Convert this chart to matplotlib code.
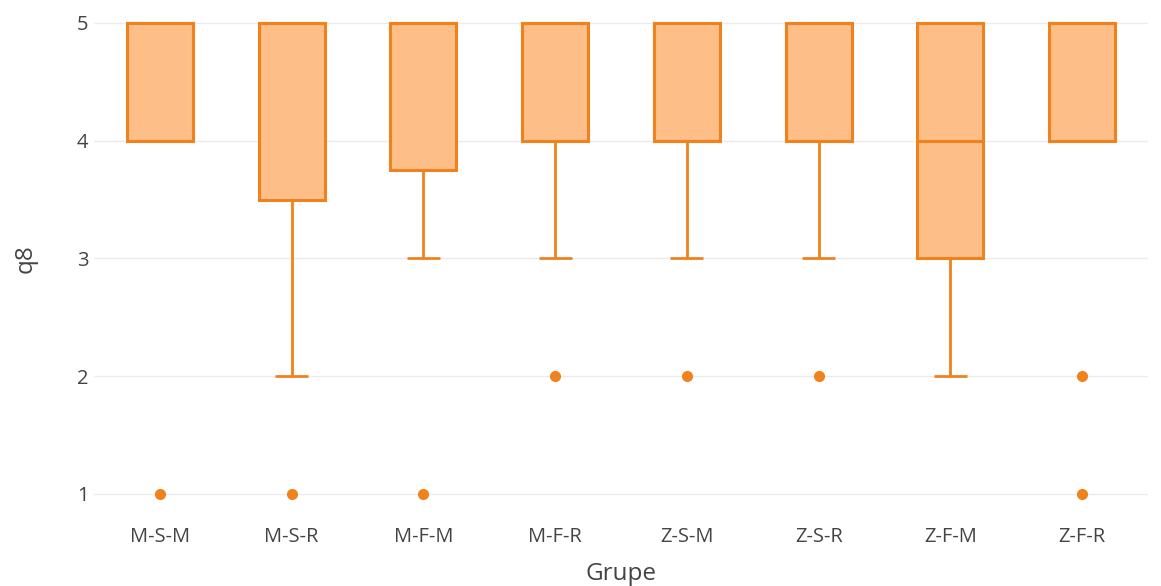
import matplotlib
matplotlib.use("Agg")
import matplotlib.pyplot as plt

# ── data ──────────────────────────────────────────────────────────────────────
groups = ["M-S-M", "M-S-R", "M-F-M", "M-F-R", "Z-S-M", "Z-S-R", "Z-F-M", "Z-F-R"]
q1 = [4, 3.5, 3.75, 4, 4, 4, 3, 4]
median = [5, 5, 5, 5, 4, 5, 4, 5]
q3 = [5, 5, 5, 5, 5, 5, 5, 5]
whis_lo = [4, 2, 3, 3, 3, 3, 2, 4]
whis_hi = [5, 5, 5, 5, 5, 5, 5, 5]
outliers = [[1], [1], [1], [2], [2], [2], [], [2, 1]]
y_ticks = [1, 2, 3, 4, 5]

LINE = "#f0821e"
FILL = "#fdbe87"
TEXT = "#444444"

plt.rcParams["font.family"] = ["Open Sans", "DejaVu Sans"]

stats = []
for i, name in enumerate(groups):
    stats.append(dict(label=name, q1=q1[i], med=median[i], q3=q3[i],
                      whislo=whis_lo[i], whishi=whis_hi[i], fliers=outliers[i]))

fig = plt.figure(figsize=(11.61, 5.86), dpi=100)
ax = fig.add_axes([94 / 1161, 1 - 517.5 / 586, (1148 - 94) / 1161, 517.5 / 586])

ax.bxp(stats, positions=range(len(groups)), widths=0.5, patch_artist=True,
       showfliers=True,
       boxprops=dict(facecolor=FILL, edgecolor=LINE, linewidth=2.2),
       medianprops=dict(color=LINE, linewidth=2.2),
       whiskerprops=dict(color=LINE, linewidth=2),
       capprops=dict(color=LINE, linewidth=2),
       flierprops=dict(marker="o", markerfacecolor=LINE, markeredgecolor=LINE,
                       markersize=7))
for line in ax.lines:
    line.set_solid_capstyle("butt")

ax.set_xlim(-0.5, len(groups) - 0.5)
ax.set_ylim(0.8, 5 + 23 / 117.75)
ax.set_yticks(y_ticks)
ax.set_xticks(range(len(groups)))
ax.set_xticklabels(groups)
ax.grid(True, axis="y", color="#ebebeb", linewidth=1)
ax.set_axisbelow(True)
for s in ax.spines.values():
    s.set_visible(False)
ax.tick_params(length=0, labelsize=14.5, colors=TEXT)
ax.tick_params(axis="x", pad=6.5)
ax.tick_params(axis="y", pad=4)
ax.set_xlabel("Grupe", fontsize=17.5, color=TEXT, labelpad=11)
ax.set_ylabel("q8", fontsize=17.5, color=TEXT, labelpad=28)

fig.savefig("out.png", dpi=100)
